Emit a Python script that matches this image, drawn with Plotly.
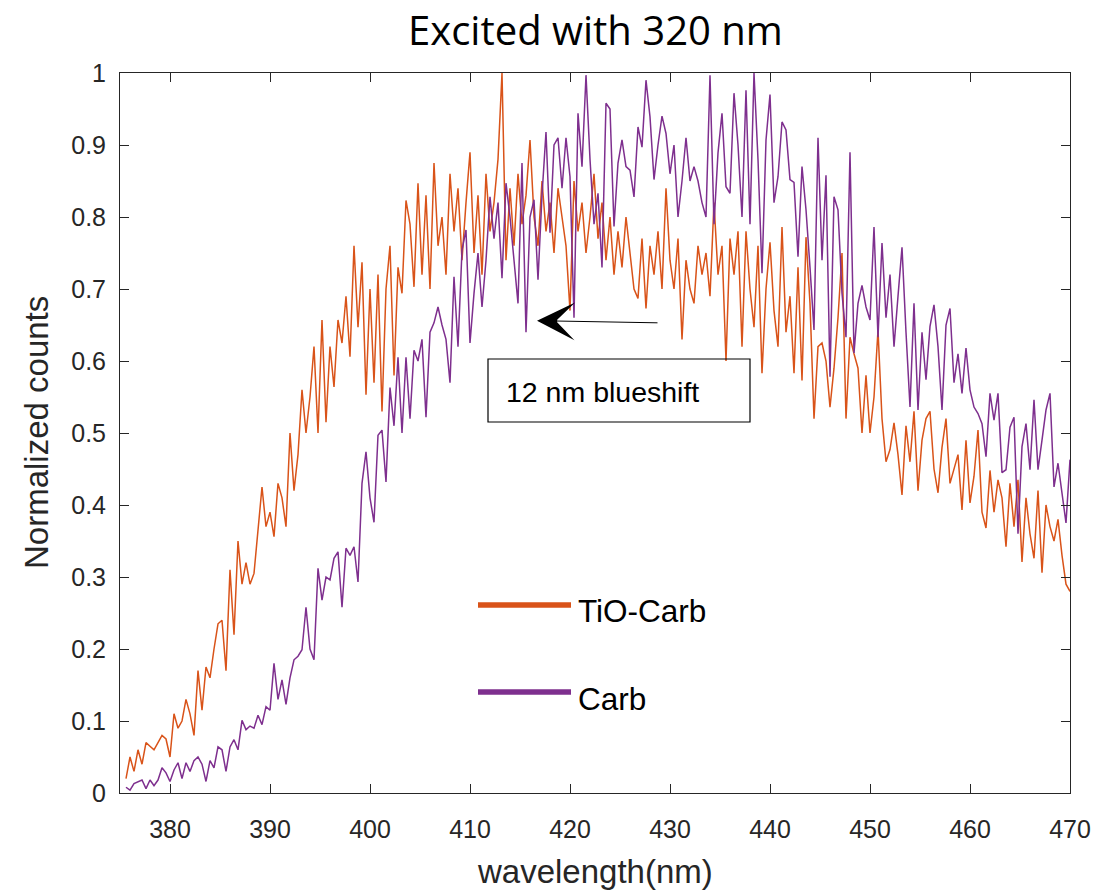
import plotly.graph_objects as go

# ---- data ----
WL_START = 375.6   # nm, first sample
WL_STEP = 0.4      # nm, sampling interval

tio_carb = [
    0.02, 0.05, 0.03, 0.06, 0.04, 0.07, 0.065, 0.06, 0.07, 0.08,
    0.075, 0.05, 0.11, 0.09, 0.10, 0.13, 0.11, 0.08, 0.17, 0.115,
    0.175, 0.16, 0.20, 0.235, 0.24, 0.17, 0.31, 0.22, 0.35, 0.29,
    0.32, 0.29, 0.305, 0.37, 0.425, 0.37, 0.39, 0.356, 0.43, 0.41,
    0.37, 0.50, 0.42, 0.47, 0.56, 0.50, 0.55, 0.62, 0.50, 0.657,
    0.515, 0.62, 0.564, 0.657, 0.625, 0.69, 0.606, 0.76, 0.647, 0.737,
    0.553, 0.70, 0.57, 0.72, 0.53, 0.70, 0.76, 0.58, 0.73, 0.694,
    0.823, 0.79, 0.703, 0.847, 0.72, 0.83, 0.70, 0.875, 0.76, 0.80,
    0.72, 0.86, 0.78, 0.84, 0.74, 0.82, 0.89, 0.75, 0.83, 0.72,
    0.86, 0.78, 0.82, 0.88, 1.00, 0.74, 0.84, 0.76, 0.86, 0.79,
    0.83, 0.907, 0.80, 0.76, 0.85, 0.78, 0.82, 0.75, 0.84, 0.80,
    0.76, 0.67, 0.85, 0.78, 0.82, 0.75, 0.80, 0.86, 0.77, 0.82,
    0.74, 0.80, 0.72, 0.78, 0.73, 0.80, 0.75, 0.70, 0.687, 0.77,
    0.673, 0.76, 0.72, 0.78, 0.70, 0.84, 0.74, 0.70, 0.77, 0.63,
    0.74, 0.70, 0.68, 0.76, 0.72, 0.75, 0.69, 0.82, 0.72, 0.76,
    0.60, 0.77, 0.72, 0.78, 0.62, 0.78, 0.70, 0.647, 0.76, 0.583,
    0.70, 0.765, 0.67, 0.62, 0.786, 0.64, 0.69, 0.583, 0.73, 0.573,
    0.772, 0.68, 0.52, 0.62, 0.625, 0.60, 0.536, 0.59, 0.66, 0.75,
    0.52, 0.633, 0.61, 0.59, 0.50, 0.58, 0.50, 0.55, 0.643, 0.52,
    0.46, 0.477, 0.514, 0.47, 0.414, 0.51, 0.46, 0.53, 0.42, 0.49,
    0.52, 0.53, 0.45, 0.417, 0.48, 0.52, 0.43, 0.449, 0.47, 0.393,
    0.49, 0.403, 0.44, 0.504, 0.39, 0.368, 0.448, 0.39, 0.435, 0.41,
    0.342, 0.43, 0.37, 0.435, 0.321, 0.41, 0.36, 0.326, 0.42, 0.306,
    0.40, 0.37, 0.35, 0.38, 0.33, 0.29, 0.28,
]

carb = [
    0.008, 0.004, 0.013, 0.015, 0.018, 0.006, 0.018, 0.01, 0.018, 0.035,
    0.028, 0.016, 0.032, 0.042, 0.02, 0.042, 0.03, 0.045, 0.05, 0.04,
    0.016, 0.045, 0.035, 0.064, 0.06, 0.03, 0.064, 0.074, 0.06, 0.101,
    0.088, 0.093, 0.09, 0.108, 0.095, 0.12, 0.115, 0.18, 0.13, 0.157,
    0.123, 0.16, 0.185, 0.19, 0.199, 0.258, 0.20, 0.185, 0.312, 0.268,
    0.30, 0.296, 0.326, 0.335, 0.258, 0.34, 0.33, 0.342, 0.293, 0.43,
    0.474, 0.41, 0.376, 0.497, 0.504, 0.432, 0.563, 0.51, 0.605, 0.50,
    0.605, 0.52, 0.615, 0.60, 0.63, 0.522, 0.64, 0.653, 0.675, 0.65,
    0.63, 0.57, 0.717, 0.62, 0.754, 0.782, 0.625, 0.694, 0.75, 0.675,
    0.74, 0.828, 0.77, 0.82, 0.715, 0.847, 0.80, 0.74, 0.68, 0.875,
    0.64, 0.80, 0.824, 0.713, 0.83, 0.918, 0.778, 0.90, 0.91, 0.84,
    0.91, 0.856, 0.66, 0.944, 0.87, 0.997, 0.88, 0.79, 0.833, 0.73,
    0.958, 0.95, 0.787, 0.875, 0.907, 0.87, 0.865, 0.828, 0.925, 0.897,
    0.99, 0.939, 0.852, 0.90, 0.94, 0.916, 0.86, 0.90, 0.80, 0.85,
    0.91, 0.85, 0.87, 0.85, 0.82, 0.80, 0.997, 0.79, 0.889, 0.944,
    0.842, 0.833, 0.972, 0.90, 0.80, 0.976, 0.79, 1.00, 0.88, 0.722,
    0.907, 0.97, 0.82, 0.856, 0.932, 0.921, 0.852, 0.848, 0.745, 0.87,
    0.81, 0.73, 0.643, 0.91, 0.74, 0.858, 0.578, 0.828, 0.81, 0.694,
    0.633, 0.89, 0.611, 0.68, 0.705, 0.675, 0.657, 0.786, 0.633, 0.764,
    0.66, 0.72, 0.62, 0.69, 0.758, 0.64, 0.536, 0.68, 0.532, 0.64,
    0.574, 0.648, 0.678, 0.62, 0.532, 0.65, 0.673, 0.57, 0.61, 0.555,
    0.618, 0.56, 0.536, 0.527, 0.513, 0.467, 0.555, 0.518, 0.555, 0.445,
    0.449, 0.508, 0.522, 0.36, 0.481, 0.513, 0.449, 0.546, 0.449, 0.49,
    0.532, 0.555, 0.425, 0.458, 0.417, 0.375, 0.463,
]

wavelength = [round(WL_START + i * WL_STEP, 1) for i in range(len(tio_carb))]

series_names = ["TiO-Carb", "Carb"]
x_ticks = [380, 390, 400, 410, 420, 430, 440, 450, 460, 470]
y_ticks = [0, 0.1, 0.2, 0.3, 0.4, 0.5, 0.6, 0.7, 0.8, 0.9, 1]
y_tick_text = ["0", "0.1", "0.2", "0.3", "0.4", "0.5", "0.6", "0.7", "0.8", "0.9", "1"]

ORANGE = "#D95319"
PURPLE = "#7E2F8E"
AXC = "#262626"
SANS = "Liberation Sans, Arial, sans-serif"
TICK_FONT = dict(family=SANS, size=25, color=AXC)

fig = go.Figure()
fig.add_trace(go.Scatter(x=wavelength, y=tio_carb, mode="lines", name=series_names[0],
                         line=dict(color=ORANGE, width=1.5), showlegend=False))
fig.add_trace(go.Scatter(x=wavelength, y=carb, mode="lines", name=series_names[1],
                         line=dict(color=PURPLE, width=1.5), showlegend=False))

axis_common = dict(showline=True, mirror="ticks", linecolor=AXC, linewidth=1,
                   ticks="inside", ticklen=9, tickwidth=1, tickcolor=AXC,
                   showgrid=False, zeroline=False, tickfont=TICK_FONT, automargin=False)

fig.update_xaxes(range=[375, 470], tickvals=x_ticks, ticklabelstandoff=14, **axis_common)
fig.update_yaxes(range=[0, 1], tickvals=y_ticks, ticktext=y_tick_text, ticklabelstandoff=8, **axis_common)

# plot area in pixels: x 120..1070, y 73..793
def px(x):
    return (x - 120) / 950.0

def py(y):
    return (793 - y) / 720.0

shapes = [
    # manual legend lines
    dict(type="line", xref="paper", yref="paper", x0=px(478), x1=px(571), y0=py(605), y1=py(605),
         line=dict(color=ORANGE, width=5.5)),
    dict(type="line", xref="paper", yref="paper", x0=px(478), x1=px(571), y0=py(692), y1=py(692),
         line=dict(color=PURPLE, width=5.5)),
    # text box
    dict(type="rect", xref="paper", yref="paper", x0=px(488), x1=px(750), y0=py(422), y1=py(359),
         line=dict(color="black", width=1.2), fillcolor="rgba(0,0,0,0)"),
]

LBL_FONT = dict(family=SANS, size=31.5, color="black")
annotations = [
    dict(text="TiO-Carb", xref="paper", yref="paper", x=px(576), y=py(611),
         xanchor="left", yanchor="middle", showarrow=False, font=LBL_FONT),
    dict(text="Carb", xref="paper", yref="paper", x=px(576), y=py(699),
         xanchor="left", yanchor="middle", showarrow=False, font=LBL_FONT),
    dict(text="12 nm blueshift", xref="paper", yref="paper", x=px(504), y=py(392),
         xanchor="left", yanchor="middle", showarrow=False,
         font=dict(family=SANS, size=28.5, color="black")),
    # arrow (tail at ~428.9 nm, head at ~416.7 nm)
    dict(text="", x=416.7, y=0.656, xref="x", yref="y", ax=428.9, ay=0.653, axref="x", ayref="y",
         showarrow=True, arrowhead=3, arrowsize=6.3, arrowwidth=1, arrowcolor="black"),
    # axis titles
    dict(text="wavelength(nm)", xref="paper", yref="paper", x=0.5, y=py(871),
         xanchor="center", yanchor="middle", showarrow=False,
         font=dict(family=SANS, size=33, color=AXC)),
    dict(text="Normalized counts", xref="paper", yref="paper", x=px(36), y=0.5, textangle=-90,
         xanchor="center", yanchor="middle", showarrow=False,
         font=dict(family=SANS, size=33, color=AXC)),
    # title
    dict(text="Excited with 320 nm", xref="paper", yref="paper", x=0.5, y=py(30),
         xanchor="center", yanchor="middle", showarrow=False,
         font=dict(family="Open Sans, Noto Sans, sans-serif", size=40, color="black")),
]

fig.update_layout(
    width=1097, height=894,
    margin=dict(l=120, r=27, t=73, b=101),
    paper_bgcolor="white", plot_bgcolor="white",
    shapes=shapes, annotations=annotations,
    showlegend=False,
)

fig.write_html("out.html")
